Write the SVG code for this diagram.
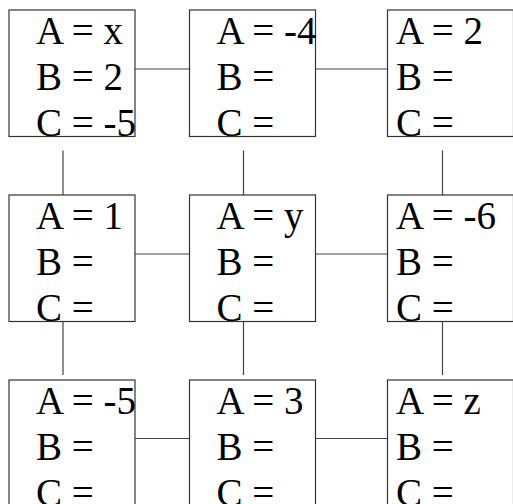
<svg xmlns="http://www.w3.org/2000/svg" width="513" height="504" viewBox="0 0 513 504">
<style>
.box{fill:#fff;stroke:#333;stroke-width:1.2}
text{font-family:'Liberation Serif','Times New Roman',serif;font-size:39px;fill:#000}
.c line{stroke:#444;stroke-width:1.2}
</style>
<rect width="513" height="504" fill="#fff"/>
<g id="connectors" class="c">
<line x1="135" y1="69" x2="189.5" y2="69"/>
<line x1="315.5" y1="69" x2="387.5" y2="69"/>
<line x1="135" y1="254" x2="189.5" y2="254"/>
<line x1="315.5" y1="254" x2="387.5" y2="254"/>
<line x1="135" y1="438.5" x2="189.5" y2="438.5"/>
<line x1="315.5" y1="438.5" x2="387.5" y2="438.5"/>
<line x1="63" y1="150.5" x2="63" y2="204"/>
<line x1="243.5" y1="150.5" x2="243.5" y2="204"/>
<line x1="442.5" y1="150.5" x2="442.5" y2="204"/>
<line x1="63" y1="321.5" x2="63" y2="375"/>
<line x1="243.5" y1="321.5" x2="243.5" y2="375"/>
<line x1="442.5" y1="321.5" x2="442.5" y2="375"/>
</g>
<g id="n11"><rect class="box" x="9" y="10" width="126" height="126.5"/><text x="36" y="44">A = x</text><text x="36" y="90">B = 2</text><text x="36" y="135.5">C = -5</text></g>
<g id="n12"><rect class="box" x="189.5" y="10" width="126" height="126.5"/><text x="216.5" y="44">A = -4</text><text x="216.5" y="90">B =</text><text x="216.5" y="135.5">C =</text></g>
<g id="n13"><rect class="box" x="387.5" y="10" width="126" height="126.5"/><text x="396" y="44">A = 2</text><text x="396" y="90">B =</text><text x="396" y="135.5">C =</text></g>
<g id="n21"><rect class="box" x="9" y="195" width="126" height="126.5"/><text x="36" y="229">A = 1</text><text x="36" y="275">B =</text><text x="36" y="320.5">C =</text></g>
<g id="n22"><rect class="box" x="189.5" y="195" width="126" height="126.5"/><text x="216.5" y="229">A = y</text><text x="216.5" y="275">B =</text><text x="216.5" y="320.5">C =</text></g>
<g id="n23"><rect class="box" x="387.5" y="195" width="126" height="126.5"/><text x="396" y="229">A = -6</text><text x="396" y="275">B =</text><text x="396" y="320.5">C =</text></g>
<g id="n31"><rect class="box" x="9" y="380" width="126" height="126.5"/><text x="36" y="414">A = -5</text><text x="36" y="460">B =</text><text x="36" y="505.5">C =</text></g>
<g id="n32"><rect class="box" x="189.5" y="380" width="126" height="126.5"/><text x="216.5" y="414">A = 3</text><text x="216.5" y="460">B =</text><text x="216.5" y="505.5">C =</text></g>
<g id="n33"><rect class="box" x="387.5" y="380" width="126" height="126.5"/><text x="396" y="414">A = z</text><text x="396" y="460">B =</text><text x="396" y="505.5">C =</text></g>
</svg>
